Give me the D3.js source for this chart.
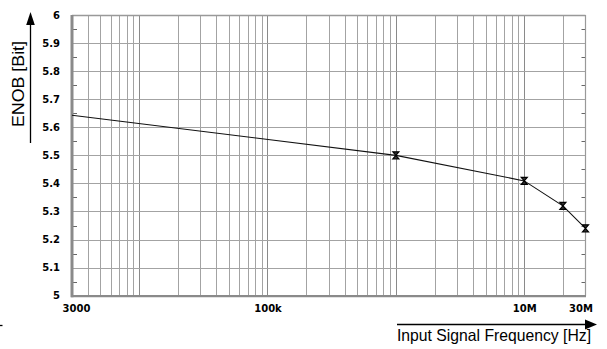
<!DOCTYPE html>
<html>
<head>
<meta charset="utf-8">
<script src="https://cdn.jsdelivr.net/npm/d3@7"></script>
<style>
  html, body { margin: 0; padding: 0; background: #fff; }
  svg { display: block; }
</style>
</head>
<body>
<svg id="chart" width="607" height="349"></svg>
<script>
// ENOB versus input signal frequency
const frequencies = [3000, 1e6, 1e7, 2e7, 3e7];
const enobValues = [5.643, 5.5, 5.409, 5.32, 5.24];
const markedFrequencies = [1e6, 1e7, 2e7, 3e7];

const xTickValues = [3000, 1e5, 1e7, 3e7];
const xTickLabels = ["3000", "100k", "10M", "30M"];
const yTickValues = [5, 5.1, 5.2, 5.3, 5.4, 5.5, 5.6, 5.7, 5.8, 5.9, 6];
const yTickLabels = ["5", "5.1", "5.2", "5.3", "5.4", "5.5", "5.6", "5.7", "5.8", "5.9", "6"];

const yTitle = "ENOB [Bit]";
const xTitle = "Input Signal Frequency [Hz]";

const svg = d3.select("#chart");
const plotLeft = 72, plotRight = 585.5, plotTop = 15, plotBottom = 295.7;

const x = d3.scaleLog().domain([3000, 3e7]).range([plotLeft, plotRight]);
const y = d3.scaleLinear().domain([5, 6]).range([plotBottom, plotTop]);

// vertical grid: every 1..9 multiple inside the frequency range
const gridX = [];
for (let e = 3; e <= 7; e++) {
  for (let m = 1; m <= 9; m++) {
    const v = m * Math.pow(10, e);
    if (v > 3000 && v < 3e7) gridX.push(v);
  }
}
const grid = svg.append("g");
grid.selectAll("line.vx").data(gridX).join("line")
  .attr("x1", d => Math.round(x(d)) + 0.5).attr("x2", d => Math.round(x(d)) + 0.5)
  .attr("y1", plotTop).attr("y2", plotBottom)
  .attr("stroke", d => (Math.abs(Math.log10(d) % 1) < 1e-9) ? "#8a8a8a" : "#a3a3a3")
  .attr("stroke-width", 1);

grid.selectAll("line.hy").data(yTickValues.slice(1, -1)).join("line")
  .attr("x1", plotLeft).attr("x2", plotRight)
  .attr("y1", d => Math.round(y(d)) + 0.5).attr("y2", d => Math.round(y(d)) + 0.5)
  .attr("stroke", "#a3a3a3").attr("stroke-width", 1);

// minor ticks halfway between the horizontal grid lines
const minorY = d3.range(10).map(i => 5.05 + i * 0.1);
grid.selectAll("line.ml").data(minorY).join("line")
  .attr("x1", plotLeft + 1).attr("x2", plotLeft + 5)
  .attr("y1", d => Math.round(y(d)) + 0.5).attr("y2", d => Math.round(y(d)) + 0.5)
  .attr("stroke", "#666");
grid.selectAll("line.mr").data(minorY).join("line")
  .attr("x1", plotRight - 4).attr("x2", plotRight)
  .attr("y1", d => Math.round(y(d)) + 0.5).attr("y2", d => Math.round(y(d)) + 0.5)
  .attr("stroke", "#666");

// frame
svg.append("line").attr("x1", plotLeft).attr("x2", plotRight).attr("y1", plotTop + 0.5).attr("y2", plotTop + 0.5)
  .attr("stroke", "#999").attr("stroke-width", 1.5);
svg.append("line").attr("x1", plotRight).attr("x2", plotRight).attr("y1", plotTop).attr("y2", plotBottom)
  .attr("stroke", "#999").attr("stroke-width", 1.2);
svg.append("line").attr("x1", plotLeft - 1).attr("x2", plotRight + 0.5).attr("y1", plotBottom + 0.5).attr("y2", plotBottom + 0.5)
  .attr("stroke", "#8a8a8a").attr("stroke-width", 2.2);
svg.append("line").attr("x1", plotLeft).attr("x2", plotLeft).attr("y1", plotTop).attr("y2", plotBottom + 1.5)
  .attr("stroke", "#8a8a8a").attr("stroke-width", 3);

// axes labels
const tickFont = "'DejaVu Sans', sans-serif";
const yAxis = svg.append("g").attr("transform", `translate(${plotLeft},0)`)
  .call(d3.axisLeft(y).tickValues(yTickValues).tickSize(0).tickPadding(12)
    .tickFormat((d, i) => yTickLabels[i]));
yAxis.select(".domain").remove();
yAxis.selectAll("text").attr("font-family", tickFont).attr("font-weight", "bold")
  .attr("font-size", 10).attr("fill", "#000");

const xAxis = svg.append("g").attr("transform", `translate(0,${plotBottom})`)
  .call(d3.axisBottom(x).tickValues(xTickValues).tickSize(0).tickPadding(9)
    .tickFormat((d, i) => xTickLabels[i]));
xAxis.select(".domain").remove();
xAxis.selectAll("text").attr("font-family", tickFont).attr("font-weight", "bold")
  .attr("font-size", 10).attr("fill", "#000")
  .attr("dx", (d, i) => i === 0 ? 4 : (i === xTickLabels.length - 1 ? -5 : 0));

// data line
const pts = frequencies.map((f, i) => [f, enobValues[i]]);
svg.append("path").datum(pts)
  .attr("d", d3.line().x(d => x(d[0])).y(d => y(d[1])))
  .attr("fill", "none").attr("stroke", "#111").attr("stroke-width", 1.1);

// hourglass markers
const marked = pts.filter(p => markedFrequencies.includes(p[0]));
svg.selectAll("path.mk").data(marked).join("path")
  .attr("transform", d => `translate(${x(d[0])},${y(d[1])})`)
  .attr("d", "M-3,-3.5H3L-3,3.5H3Z")
  .attr("fill", "#333").attr("stroke", "#000").attr("stroke-width", 1.2);

// axis arrows
svg.append("line").attr("x1", 30.5).attr("x2", 30.5).attr("y1", 20).attr("y2", 143)
  .attr("stroke", "#000").attr("stroke-width", 1.3);
svg.append("path").attr("d", "M30.5,12L34.8,25L26.2,25Z").attr("fill", "#000");

svg.append("line").attr("x1", 397).attr("x2", 590).attr("y1", 324.5).attr("y2", 324.5)
  .attr("stroke", "#000").attr("stroke-width", 1.3);
svg.append("path").attr("d", "M597,324.5L585,319.5L585,329.5Z").attr("fill", "#000");
svg.append("line").attr("x1", 0).attr("x2", 2.5).attr("y1", 325.5).attr("y2", 325.5)
  .attr("stroke", "#000").attr("stroke-width", 1.3);

// axis titles
svg.append("text")
  .attr("transform", "translate(24.3,84) rotate(-90)")
  .attr("text-anchor", "middle")
  .attr("font-family", "'Liberation Sans', Arial, sans-serif")
  .attr("font-size", 17)
  .attr("textLength", 86).attr("lengthAdjust", "spacingAndGlyphs")
  .attr("fill", "#000")
  .text(yTitle);

svg.append("text")
  .attr("x", 397).attr("y", 340.5)
  .attr("font-family", "'Liberation Sans', Arial, sans-serif")
  .attr("font-size", 16.5)
  .attr("textLength", 194).attr("lengthAdjust", "spacingAndGlyphs")
  .attr("fill", "#000")
  .text(xTitle);
</script>
</body>
</html>
